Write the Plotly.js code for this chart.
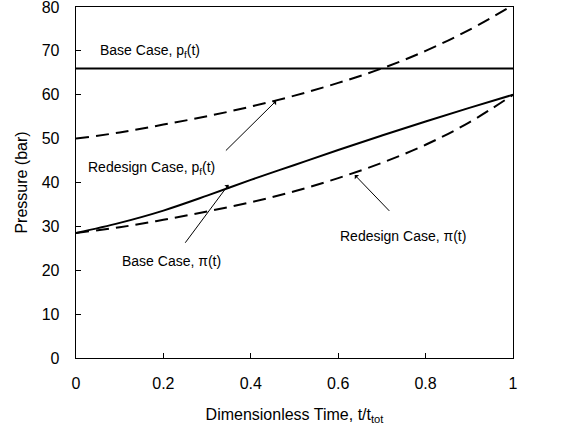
<!DOCTYPE html>
<html>
<head>
<meta charset="utf-8">
<script src="https://cdn.plot.ly/plotly-3.0.1.min.js"></script>
<style>html,body{margin:0;padding:0;background:#fff;}#chart{width:565px;height:436px;}</style>
</head>
<body>
<div id="chart"></div>
<script>
// Dimensionless time t/t_tot
const tValues = [0, 0.1, 0.2, 0.3, 0.4, 0.5, 0.6, 0.7, 0.8, 0.9, 1.0];
// Base case feed pressure p_f(t) (bar) - constant
const baseFeed = [66, 66, 66, 66, 66, 66, 66, 66, 66, 66, 66];
// Redesign case feed pressure p_f(t) (bar)
const redesignFeed = [50, 51.4, 53.2, 55.1, 57.3, 59.8, 62.7, 66.0, 70.0, 74.8, 80.4];
// Base case osmotic pressure pi(t) (bar)
const basePi = [28.5, 30.8, 33.6, 37.0, 40.6, 44.0, 47.4, 50.7, 53.9, 57.0, 60.0];
// Redesign case osmotic pressure pi(t) (bar)
const redesignPi = [28.5, 29.8, 31.5, 33.4, 35.5, 38.0, 41.0, 44.5, 48.6, 53.7, 60.0];

const xTicks = [0, 0.2, 0.4, 0.6, 0.8, 1];
const xTickText = ['0', '0.2', '0.4', '0.6', '0.8', '1'];
const yTicks = [0, 10, 20, 30, 40, 50, 60, 70, 80];

const FONT = 'Liberation Sans, Arial, sans-serif';

const traces = [
  {x: tValues, y: baseFeed, mode: 'lines', line: {color: '#000', width: 2}, name: 'Base Case, p_f(t)'},
  {x: tValues, y: redesignFeed, mode: 'lines', line: {color: '#000', width: 2, dash: '13px,7px', shape: 'spline'}, name: 'Redesign Case, p_f(t)'},
  {x: tValues, y: basePi, mode: 'lines', line: {color: '#000', width: 2, shape: 'spline'}, name: 'Base Case, π(t)'},
  {x: tValues, y: redesignPi, mode: 'lines', line: {color: '#000', width: 2, dash: '13px,7px', shape: 'spline'}, name: 'Redesign Case, π(t)'}
];

const labelFont = {family: FONT, size: 14, color: '#000'};

function arrow(x, y, ax, ay) {
  return {x: x, y: y, ax: ax, ay: ay, xref: 'x', yref: 'y', axref: 'x', ayref: 'y',
    text: ' ', showarrow: true, arrowhead: 1, arrowsize: 1, arrowwidth: 1, arrowcolor: '#000'};
}
function label(x, y, text) {
  return {x: x, y: y, xref: 'x', yref: 'y', text: text, showarrow: false,
    xanchor: 'left', yanchor: 'middle', font: labelFont};
}

const annotations = [
  label(0.05, 70, 'Base Case, p<sub>f</sub>(t)'),
  label(0.023, 43.2, 'Redesign Case, p<sub>f</sub>(t)'),
  label(0.10, 22, 'Base Case, π(t)'),
  label(0.60, 27.7, 'Redesign Case, π(t)'),
  arrow(0.458, 58.6, 0.335, 46.5),
  arrow(0.349, 39.5, 0.242, 25.2),
  arrow(0.638, 41.7, 0.725, 32.7)
];

const layout = {
  width: 565, height: 436,
  margin: {l: 76, r: 52, t: 7, b: 78},
  paper_bgcolor: '#fff', plot_bgcolor: '#fff',
  showlegend: false,
  font: {family: FONT, size: 16, color: '#000'},
  xaxis: {
    range: [0, 1], tickvals: xTicks, ticktext: xTickText,
    showgrid: false, zeroline: false, showline: true, mirror: true,
    linecolor: '#000', linewidth: 1.3, ticks: 'inside', ticklen: 5, tickcolor: '#000',
    tickfont: {family: FONT, size: 16, color: '#000'}, ticklabelstandoff: 10,
    ticklabeloverflow: 'allow',
    title: {text: 'Dimensionless Time, t/t<sub>tot</sub>', font: {family: FONT, size: 16, color: '#000'}, standoff: 18}
  },
  yaxis: {
    range: [0, 80], tickvals: yTicks,
    showgrid: false, zeroline: false, showline: true, mirror: true,
    linecolor: '#000', linewidth: 1.3, ticks: 'inside', ticklen: 5, tickcolor: '#000',
    tickfont: {family: FONT, size: 16, color: '#000'}, ticklabelstandoff: 12,
    ticklabeloverflow: 'allow',
    title: {text: 'Pressure (bar)', font: {family: FONT, size: 16, color: '#000'}, standoff: 10}
  },
  annotations: annotations
};

Plotly.newPlot('chart', traces, layout, {staticPlot: true, displayModeBar: false});
</script>
</body>
</html>
